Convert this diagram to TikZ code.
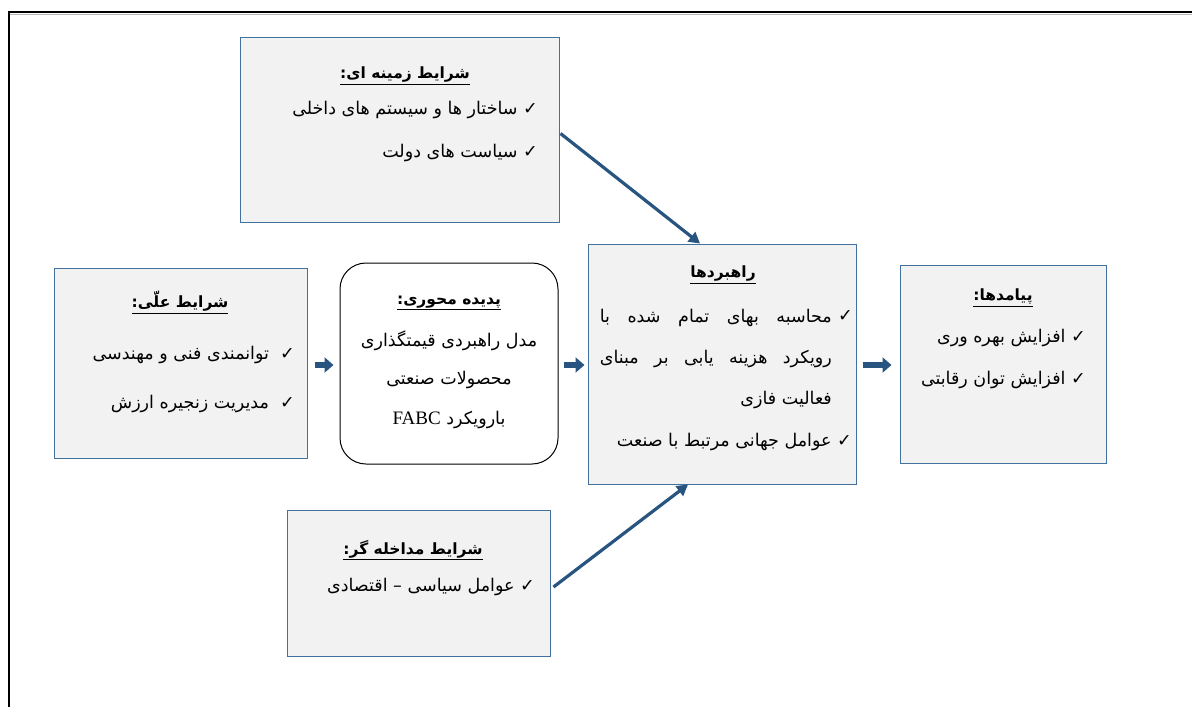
\documentclass[tikz,border=0pt]{standalone}
\usepackage{fontspec}
\setmainfont{Liberation Serif}
\newfontfamily\ar[Script=Arabic]{DejaVu Sans}
\TeXXeTstate=1
\usetikzlibrary{arrows.meta,calc}
\definecolor{boxblue}{RGB}{65,113,156}
\definecolor{boxfill}{RGB}{242,242,242}
\definecolor{arrowblue}{RGB}{40,84,128}
\newcommand\fa[1]{{\ar\beginR #1\endR}}
\newcommand\fattl[1]{\underline{\hbox{\ar\bfseries\beginR #1\endR}}}
\tikzset{
 panel/.style={draw=boxblue, fill=boxfill, line width=1pt, inner sep=0},
 corebox/.style={draw=black, fill=white, line width=1pt, rounded corners=26pt, inner sep=0},
 ttl/.style={inner sep=0, font=\fontsize{15.5}{18}\selectfont},
 itm/.style={inner sep=0, font=\fontsize{17.5}{20}\selectfont, anchor=east},
 ctr/.style={inner sep=0, font=\fontsize{17.5}{20}\selectfont},
 blk/.style={draw=arrowblue, line width=6pt, -{Triangle[length=9pt,width=15pt]}},
 dia/.style={draw=arrowblue, line width=3.2pt, -{Triangle[length=11pt,width=12pt]}}
}
\begin{document}
\begin{tikzpicture}[x=1pt,y=-1pt]
\useasboundingbox (0,0) rectangle (1192,707);
% outer frame
\draw[gray!55, line width=1pt] (10,14.5) -- (1192,14.5);
\draw[line width=1.6pt] (9,707) -- (9,12) -- (1192,12);

% panels
\node[panel, minimum width=319pt, minimum height=185pt] (ctx) at (399.5,129.5) {};
\node[panel, minimum width=253pt, minimum height=190pt] (cause) at (180.5,363) {};
\node[corebox, minimum width=218pt, minimum height=201pt] (core) at (449,363.5) {};
\node[panel, minimum width=268pt, minimum height=240pt] (strat) at (722,364) {};
\node[panel, minimum width=206pt, minimum height=198pt] (cons) at (1003,364) {};
\node[panel, minimum width=263pt, minimum height=146pt] (intv) at (418.5,583) {};

% contextual
\node[ttl] (ctxt) at (405,76) {\fattl{شرایط زمینه ای:}};
\node[itm] (ctx1) at (538,110) {\fa{✓ ساختار ها و سیستم های داخلی}};
\node[itm] (ctx2) at (538,153) {\fa{✓ سیاست های دولت}};

% causal
\node[ttl] (causet) at (180,302) {\fattl{شرایط علّی:}};
\node[itm] (cause1) at (295,355) {\fa{✓\ \ توانمندی فنی و مهندسی}};
\node[itm] (cause2) at (295,404) {\fa{✓\ \ مدیریت زنجیره ارزش}};

% core
\node[ttl] (coret) at (449,303) {\fattl{پدیده محوری:}};
\node[ctr] (core1) at (449,341) {\fa{مدل راهبردی قیمتگذاری}};
\node[ctr] (core2) at (449,380) {\fa{محصولات صنعتی}};
\node[ctr] (core3) at (449,420) {\fa{بارویکرد \beginL{\rmfamily\fontsize{19}{22}\selectfont FABC}\endL}};

% strategies
\node[ttl] (stratt) at (723,275) {\fattl{راهبردها}};
\node[itm] (schk) at (853,316) {\fa{✓}};
\node[itm] (str1) at (832,318) {\hbox to 232pt{\ar\beginR محاسبه بهای تمام شده با\endR}};
\node[itm] (str2) at (832,359) {\hbox to 232pt{\ar\beginR رویکرد هزینه یابی بر مبنای\endR}};
\node[itm] (str3) at (832,400) {\fa{فعالیت فازی}};
\node[itm] (str4) at (852,442) {\fa{✓ عوامل جهانی مرتبط با صنعت}};

% consequences
\node[ttl] (const) at (1003,298) {\fattl{پیامدها:}};
\node[itm] (cons1) at (1086,338) {\fa{✓ افزایش بهره وری}};
\node[itm] (cons2) at (1086,380) {\fa{✓ افزایش توان رقابتی}};

% intervening
\node[ttl] (intvt) at (413,550) {\fattl{شرایط مداخله گر:}};
\node[itm] (intv1) at (535,587) {\fa{✓ عوامل سیاسی – اقتصادی}};

% arrows
\draw[blk] ([xshift=7pt,yshift=-2pt]cause.east) -- ([xshift=-6pt,yshift=-2pt]cause.east -| core.west);
\draw[blk] ([xshift=5pt,yshift=-1.5pt]core.east) -- ([xshift=-3pt,yshift=-1.5pt]core.east -| strat.west);
\draw[blk] ([xshift=6pt,yshift=-1pt]strat.east) -- ([xshift=-8pt,yshift=-1pt]strat.east -| cons.west);
\draw[dia] ([shift={(1pt,-4pt)}]ctx.east) -- ([xshift=-22pt]strat.north);
\draw[dia] ([shift={(3pt,-4pt)}]intv.east) -- ([xshift=-34pt]strat.south);
\end{tikzpicture}
\end{document}
